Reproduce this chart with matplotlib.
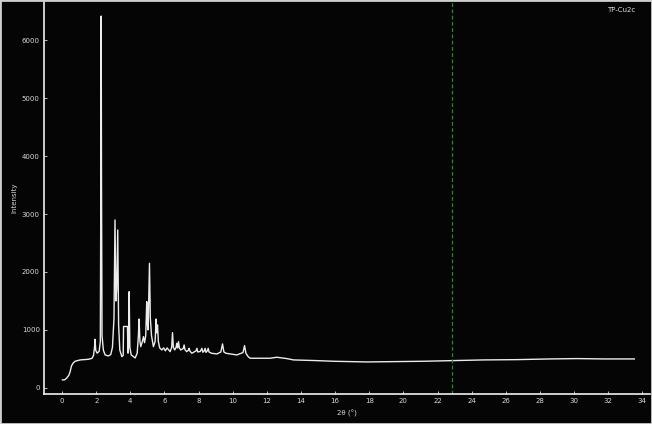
import matplotlib.pyplot as plt
from matplotlib.patches import Rectangle

# diffraction profile, vertices of the trace (2theta, counts)
two_theta = [0.02, 0.15, 0.27, 0.4, 0.47, 0.55, 0.65, 0.76, 1.06, 1.54, 1.75,
             1.84, 1.9, 1.93, 1.97, 2.05, 2.17, 2.24, 2.27, 2.29, 2.31, 2.34,
             2.42, 2.52, 2.7, 2.85, 2.95, 3.04, 3.1, 3.15, 3.2, 3.26, 3.31,
             3.38, 3.5, 3.58, 3.6, 3.83, 3.86, 3.89, 3.93, 3.97, 4.05, 4.28,
             4.4, 4.47, 4.51, 4.56, 4.61, 4.7, 4.77, 4.83, 4.9, 4.96, 5.0,
             5.04, 5.12, 5.17, 5.24, 5.35, 5.45, 5.51, 5.55, 5.59, 5.64, 5.72,
             5.84, 5.95, 6.05, 6.15, 6.33, 6.42, 6.47, 6.52, 6.6, 6.68, 6.72,
             6.77, 6.82, 6.87, 6.95, 7.1, 7.15, 7.2, 7.3, 7.4, 7.44, 7.48,
             7.6, 7.85, 7.9, 7.95, 8.1, 8.19, 8.25, 8.33, 8.38, 8.43, 8.51,
             8.56, 8.61, 8.75, 9.07, 9.3, 9.4, 9.48, 9.6, 10.24, 10.6, 10.69,
             10.77, 10.9, 11.02, 12.19, 12.58, 13.17, 13.56, 14.93, 15.9,
             17.86, 19.81, 21.18, 22.84, 24.7, 26.65, 28.6, 30.17, 31.73,
             33.53]
counts = [138, 140, 170, 220, 280, 380, 430, 460, 483, 494, 510,
          560, 700, 839, 650, 600, 630, 800, 3500, 6414, 3500, 900,
          650, 569, 552, 575, 700, 1200, 2897, 1500, 1700, 2724, 1100,
          655, 540, 560, 1060, 1060, 600, 700, 1660, 700, 569, 517,
          600, 900, 1189, 800, 712, 800, 885, 780, 900, 1488, 1100,
          1000, 2149, 1200, 900, 712, 800, 1189, 950, 1086, 800, 690,
          655, 690, 640, 690, 626, 700, 953, 700, 655, 700, 770,
          690, 798, 690, 655, 680, 741, 660, 626, 650, 683, 640,
          598, 640, 683, 620, 630, 683, 615, 640, 683, 612, 640,
          683, 620, 598, 586, 620, 759, 620, 598, 569, 610, 730,
          600, 540, 512, 512, 529, 506, 483, 471, 460,
          448, 454, 460, 471, 483, 488, 500, 506, 500,
          500]

x_ticks = [0, 2, 4, 6, 8, 10, 12, 14, 16, 18, 20, 22, 24, 26, 28, 30, 32, 34]
y_ticks = [0, 1000, 2000, 3000, 4000, 5000, 6000]
marker_pos = 22.84
sample_name = "TP-Cu2c"

fig = plt.figure(figsize=(6.52, 4.24), dpi=100, facecolor="#050505")
ax = fig.add_axes([0.0675, 0.071, 0.93, 0.924])
ax.set_facecolor("#050505")

ax.plot(two_theta, counts, color="#ececec", lw=1.0)
ax.axvline(marker_pos, color="#1f8f2c", lw=0.9, ls=(0, (3, 2)))

ax.set_xlim(-1.06, 34.47)
ax.set_ylim(-103, 6655)
ax.set_xticks(x_ticks)
ax.set_yticks(y_ticks)

for s in ["top", "right"]:
    ax.spines[s].set_visible(False)
for s in ["left", "bottom"]:
    ax.spines[s].set_color("#f0f0f0")
    ax.spines[s].set_linewidth(1.2)

ax.tick_params(colors="#d8d8d8", labelsize=5, length=2, width=0.6,
               direction="in", pad=3)
ax.set_xlabel("2θ (°)", color="#d8d8d8", fontsize=5, labelpad=4)
ax.set_ylabel("Intensity", color="#d8d8d8", fontsize=5, labelpad=3)

fig.text(0.975, 0.983, sample_name, color="#e0e0e0", fontsize=5,
         ha="right", va="top")

# light frame round the whole image
fig.patches.append(Rectangle((0, 0), 1, 1, transform=fig.transFigure,
                             fill=False, edgecolor="#cfcfcf", lw=2.0))

fig.savefig("out.png", dpi=100, facecolor=fig.get_facecolor())
